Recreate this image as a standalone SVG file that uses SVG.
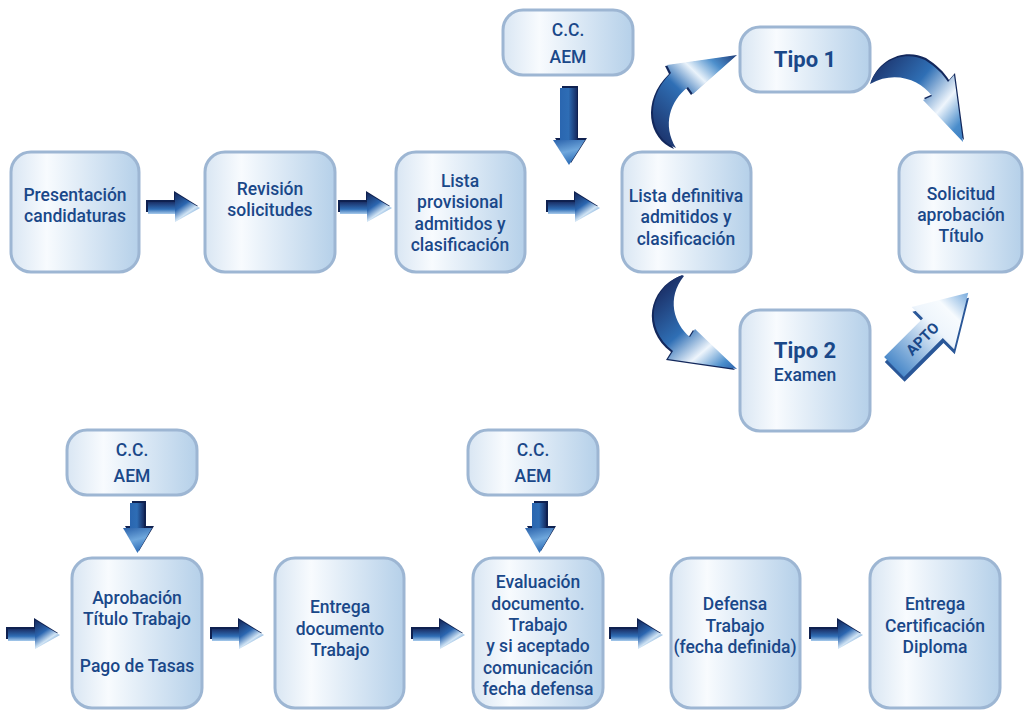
<svg xmlns="http://www.w3.org/2000/svg" xmlns:xlink="http://www.w3.org/1999/xlink" width="1024" height="711" viewBox="0 0 1024 711">
<style>
.box{fill:url(#gBox);stroke:#9db6d3;stroke-width:3}
.t{font-family:Roboto,"Liberation Sans",sans-serif;font-weight:500;font-size:17.5px;fill:#1a4889;text-anchor:middle}
.tb{font-family:Roboto,"Liberation Sans",sans-serif;font-weight:700;font-size:22px;fill:#1a4889;text-anchor:middle}
.ext{fill:#0f2150}
</style>
<defs>
<linearGradient id="gBox" x1="0" y1="0" x2="1" y2="0">
<stop offset="0" stop-color="#d9e6f3"/>
<stop offset="0.28" stop-color="#f8fbfe"/>
<stop offset="1" stop-color="#b5d0e9"/>
</linearGradient>
<linearGradient id="gShaft" x1="0" y1="0" x2="0" y2="1">
<stop offset="0" stop-color="#1a2f66"/>
<stop offset="0.6" stop-color="#2f6db5"/>
<stop offset="1" stop-color="#a8cbec"/>
</linearGradient>
<linearGradient id="gHead" x1="0" y1="0" x2="0.6" y2="1">
<stop offset="0" stop-color="#15295c"/>
<stop offset="0.45" stop-color="#2b66b0"/>
<stop offset="0.72" stop-color="#d2e5f5"/>
<stop offset="1" stop-color="#3b7fc4"/>
</linearGradient>
<linearGradient id="gVShaft" x1="0" y1="0" x2="1" y2="0">
<stop offset="0" stop-color="#2a66b0"/>
<stop offset="0.5" stop-color="#2e6db5"/>
<stop offset="1" stop-color="#162c62"/>
</linearGradient>
<linearGradient id="gVHead" x1="0" y1="0" x2="0.3" y2="1">
<stop offset="0" stop-color="#2a62ab"/>
<stop offset="0.55" stop-color="#6fa7dc"/>
<stop offset="1" stop-color="#2f6fb8"/>
</linearGradient>
<linearGradient id="gC1" gradientUnits="userSpaceOnUse" x1="655" y1="140" x2="737" y2="55">
<stop offset="0" stop-color="#1b3068"/>
<stop offset="0.45" stop-color="#2f6fb5"/>
<stop offset="0.65" stop-color="#eaf3fb"/>
<stop offset="0.82" stop-color="#4d8fcc"/>
<stop offset="1" stop-color="#1c3a78"/>
</linearGradient>
<linearGradient id="gC2" gradientUnits="userSpaceOnUse" x1="870" y1="65" x2="963" y2="142">
<stop offset="0" stop-color="#1b3068"/>
<stop offset="0.4" stop-color="#2f6fb5"/>
<stop offset="0.68" stop-color="#eef5fc"/>
<stop offset="0.88" stop-color="#4a8dcb"/>
<stop offset="1" stop-color="#3a7cc0"/>
</linearGradient>
<linearGradient id="gC3" gradientUnits="userSpaceOnUse" x1="665" y1="285" x2="737" y2="369">
<stop offset="0" stop-color="#1b3068"/>
<stop offset="0.42" stop-color="#2f6fb5"/>
<stop offset="0.68" stop-color="#eef5fc"/>
<stop offset="0.88" stop-color="#4a8dcb"/>
<stop offset="1" stop-color="#2a60aa"/>
</linearGradient>
<linearGradient id="gApto" x1="0" y1="0" x2="1" y2="0">
<stop offset="0" stop-color="#4a89c9"/>
<stop offset="0.55" stop-color="#eef5fc"/>
<stop offset="0.75" stop-color="#f7fbfe"/>
<stop offset="1" stop-color="#78abdd"/>
</linearGradient>
<g id="harrow">
<polygon class="ext" points="-2,7 26,7 26,-2 50,13 28,27 28,19 -2,19"/>
<rect x="0" y="9" width="30" height="12" fill="url(#gShaft)"/>
<polygon points="27,0 52,15 27,29" fill="url(#gHead)"/>
</g>
<g id="varrowL">
<polygon class="ext" points="9,-2 25,-2 25,50 34,50 18,75 2,50 9,50"/>
<rect x="7" y="0" width="17" height="52" fill="url(#gVShaft)"/>
<polygon points="0,52 32,52 16,77" fill="url(#gVHead)"/>
</g>
<g id="varrowS">
<polygon class="ext" points="9,-2 23,-2 23,23 31,23 16,48 2,23 9,23"/>
<rect x="7" y="0" width="14" height="25" fill="url(#gVShaft)"/>
<polygon points="0,25 29,25 14.5,50" fill="url(#gVHead)"/>
</g>
</defs>
<rect width="1024" height="711" fill="#ffffff"/>

<g id="connectors">
<use xlink:href="#harrow" x="148" y="193"/>
<use xlink:href="#harrow" x="340" y="193"/>
<use xlink:href="#harrow" x="548" y="193"/>
<use xlink:href="#harrow" x="8" y="620"/>
<use xlink:href="#harrow" x="212" y="620"/>
<use xlink:href="#harrow" x="413" y="620"/>
<use xlink:href="#harrow" x="611" y="620"/>
<use xlink:href="#harrow" x="811" y="620"/>
<use xlink:href="#varrowL" x="553" y="88"/>
<use xlink:href="#varrowS" x="123" y="503"/>
<use xlink:href="#varrowS" x="525" y="503"/>
<path d="M676,148 C650,138 643,100 671,73 L667,65 L737,55 L693,94 L688,87 C670,101 662,125 676,148 Z" fill="#13285c" transform="translate(-2,1)"/>
<path d="M676,148 C650,138 643,100 671,73 L667,65 L737,55 L693,94 L688,87 C670,101 662,125 676,148 Z" fill="url(#gC1)"/>
<path d="M870,84 C878,60 905,50 925,60 C936,67 943,74 948,82 L954,75 L963,142 L923,100 L932,96 C920,80 895,70 870,84 Z" fill="#13285c" transform="translate(1,-2)"/>
<path d="M870,84 C878,60 905,50 925,60 C936,67 943,74 948,82 L954,75 L963,142 L923,100 L932,96 C920,80 895,70 870,84 Z" fill="url(#gC2)"/>
<path d="M682,275 C650,288 643,328 673,351 L668,359 L737,369 L695,329 L690,337 C674,324 666,298 684,276 Z" fill="#13285c" transform="translate(-2,1)"/>
<path d="M682,275 C650,288 643,328 673,351 L668,359 L737,369 L695,329 L690,337 C674,324 666,298 684,276 Z" fill="url(#gC3)"/>
<g transform="translate(894,367) rotate(-45)">
<polygon points="0,-14 55,-14 55,-30 105,0 55,30 55,14 0,14" fill="#2a5798" transform="translate(-3,4)"/>
<polygon points="0,-14 55,-14 55,-30 105,0 55,30 55,14 0,14" fill="url(#gApto)"/>
<text x="40" y="5.5" font-family="Roboto,'Liberation Sans',sans-serif" font-weight="700" font-size="15" fill="#1a4889" text-anchor="middle">APTO</text>
</g>
</g>

<g id="n1"><rect class="box" x="11" y="152" width="128" height="120" rx="20"/>
<text class="t" x="75" y="201">Presentación</text><text class="t" x="75" y="222">candidaturas</text></g>
<g id="n2"><rect class="box" x="205" y="152" width="130" height="120" rx="20"/>
<text class="t" x="270" y="195">Revisión</text><text class="t" x="270" y="216">solicitudes</text></g>
<g id="n3"><rect class="box" x="396" y="152" width="129" height="120" rx="20"/>
<text class="t" x="460" y="187">Lista</text><text class="t" x="460" y="208">provisional</text><text class="t" x="460" y="230">admitidos y</text><text class="t" x="460" y="251">clasificación</text></g>
<g id="n4"><rect class="box" x="622" y="152" width="129" height="120" rx="20"/>
<text class="t" x="686" y="202">Lista definitiva</text><text class="t" x="686" y="223">admitidos y</text><text class="t" x="686" y="245">clasificación</text></g>
<g id="n5"><rect class="box" x="740" y="27" width="130" height="65" rx="20"/>
<text class="tb" x="805" y="67">Tipo 1</text></g>
<g id="n6"><rect class="box" x="899" y="152" width="123" height="120" rx="20"/>
<text class="t" x="961" y="200">Solicitud</text><text class="t" x="961" y="221">aprobación</text><text class="t" x="961" y="242">Título</text></g>
<g id="n7"><rect class="box" x="740" y="310" width="130" height="121" rx="20"/>
<text class="tb" x="805" y="358">Tipo 2</text><text class="t" x="805" y="381">Examen</text></g>
<g id="n8"><rect class="box" x="503" y="10" width="130" height="65" rx="20"/>
<text class="t" x="568" y="36">C.C.</text><text class="t" x="568" y="63">AEM</text></g>
<g id="n9"><rect class="box" x="67" y="430" width="130" height="65" rx="20"/>
<text class="t" x="132" y="456">C.C.</text><text class="t" x="132" y="482">AEM</text></g>
<g id="n10"><rect class="box" x="72" y="558" width="130" height="150" rx="20"/>
<text class="t" x="137" y="604">Aprobación</text><text class="t" x="137" y="625">Título Trabajo</text><text class="t" x="137" y="672">Pago de Tasas</text></g>
<g id="n11"><rect class="box" x="275" y="558" width="129" height="150" rx="20"/>
<text class="t" x="340" y="613">Entrega</text><text class="t" x="340" y="635">documento</text><text class="t" x="340" y="656">Trabajo</text></g>
<g id="n12"><rect class="box" x="468" y="430" width="130" height="65" rx="20"/>
<text class="t" x="533" y="456">C.C.</text><text class="t" x="533" y="482">AEM</text></g>
<g id="n13"><rect class="box" x="473" y="558" width="130" height="150" rx="20"/>
<text class="t" x="538" y="588">Evaluación</text><text class="t" x="538" y="610">documento.</text><text class="t" x="538" y="631">Trabajo</text><text class="t" x="538" y="652">y si aceptado</text><text class="t" x="538" y="674">comunicación</text><text class="t" x="538" y="695">fecha defensa</text></g>
<g id="n14"><rect class="box" x="671" y="558" width="129" height="150" rx="20"/>
<text class="t" x="735" y="610">Defensa</text><text class="t" x="735" y="632">Trabajo</text><text class="t" x="735" y="653">(fecha definida)</text></g>
<g id="n15"><rect class="box" x="870" y="558" width="130" height="150" rx="20"/>
<text class="t" x="935" y="610">Entrega</text><text class="t" x="935" y="632">Certificación</text><text class="t" x="935" y="653">Diploma</text></g>
</svg>
